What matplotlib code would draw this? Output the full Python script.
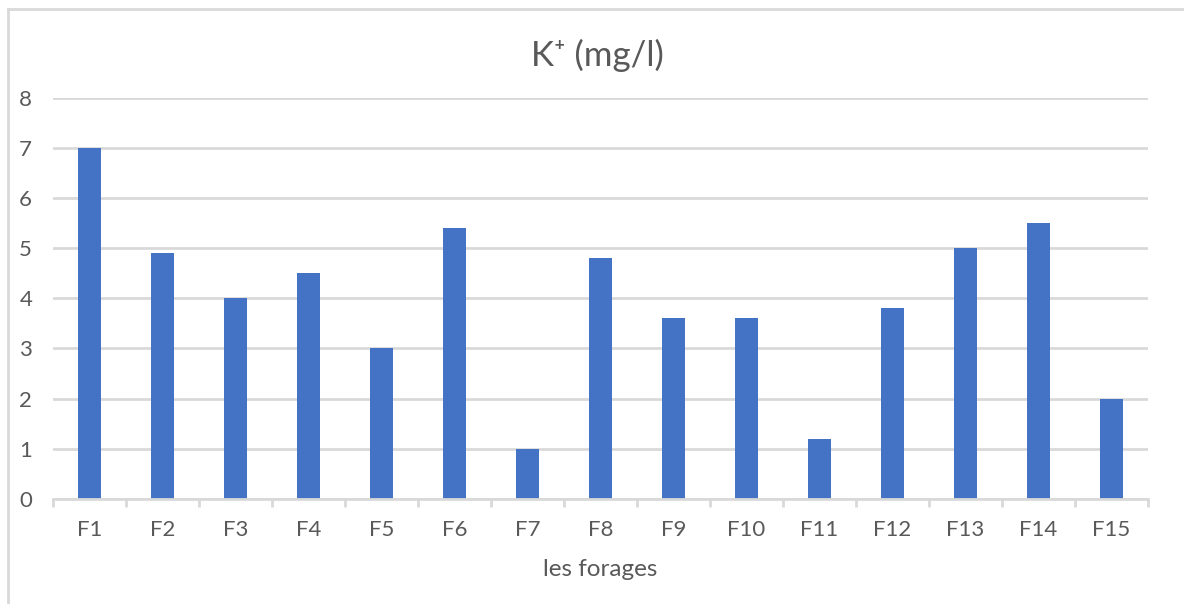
import matplotlib
matplotlib.use("Agg")
import matplotlib.pyplot as plt
from matplotlib.lines import Line2D
import numpy as np

# Potassium concentration per borehole
forages = ["F1", "F2", "F3", "F4", "F5", "F6", "F7", "F8", "F9", "F10",
           "F11", "F12", "F13", "F14", "F15"]
k_plus = [7.0, 4.9, 4.0, 4.5, 3.0, 5.4, 1.0, 4.8, 3.6, 3.6, 1.2, 3.8, 5.0, 5.5, 2.0]
y_ticks = [0, 1, 2, 3, 4, 5, 6, 7, 8]

plt.rcParams["font.family"] = ["Lato", "DejaVu Sans"]
text_color = "#595959"
grid_color = "#D9D9D9"
bar_color = "#4472C4"

W, H = 1184, 604
fig = plt.figure(figsize=(W / 100, H / 100), dpi=100)
ax = fig.add_axes([53 / W, 1 - 499 / H, (1148 - 53) / W, (499 - 97.5) / H])

x = np.arange(len(forages))
ax.bar(x, k_plus, width=0.31, color=bar_color, zorder=3)

ax.set_xlim(-0.5, len(forages) - 0.5)
ax.set_ylim(0, 8)
ax.set_yticks(y_ticks)
ax.set_yticklabels([str(v) for v in y_ticks])
ax.set_xticks(x)
ax.set_xticklabels(forages)
ax.set_xticks(np.arange(len(forages) + 1) - 0.5, minor=True)

ax.grid(axis="y", color=grid_color, linewidth=2, zorder=0)
for s in ["top", "right", "left"]:
    ax.spines[s].set_visible(False)
ax.spines["bottom"].set_color(grid_color)
ax.spines["bottom"].set_linewidth(2)
ax.spines["bottom"].set_zorder(4)

ax.tick_params(axis="y", length=0, pad=15, labelsize=16, labelcolor=text_color)
ax.tick_params(axis="x", which="major", length=0, pad=15, labelsize=16,
               labelcolor=text_color)
ax.tick_params(axis="x", which="minor", length=5.5, width=2, color=grid_color)

fig.text(597 / W, 1 - 55 / H, "K\u207A (mg/l)", ha="center", va="center",
         fontsize=25, color=text_color)
fig.text(600 / W, 1 - 569 / H, "les forages", ha="center", va="center",
         fontsize=17.5, color=text_color)

# chart area frame (top and left edges)
fig.add_artist(Line2D([8 / W, 8 / W], [0, 1 - 9 / H], transform=fig.transFigure,
                      color=grid_color, linewidth=2))
fig.add_artist(Line2D([8 / W, 1], [1 - 9 / H, 1 - 9 / H], transform=fig.transFigure,
                      color=grid_color, linewidth=2))

fig.savefig("out.png", dpi=100, facecolor="white")
